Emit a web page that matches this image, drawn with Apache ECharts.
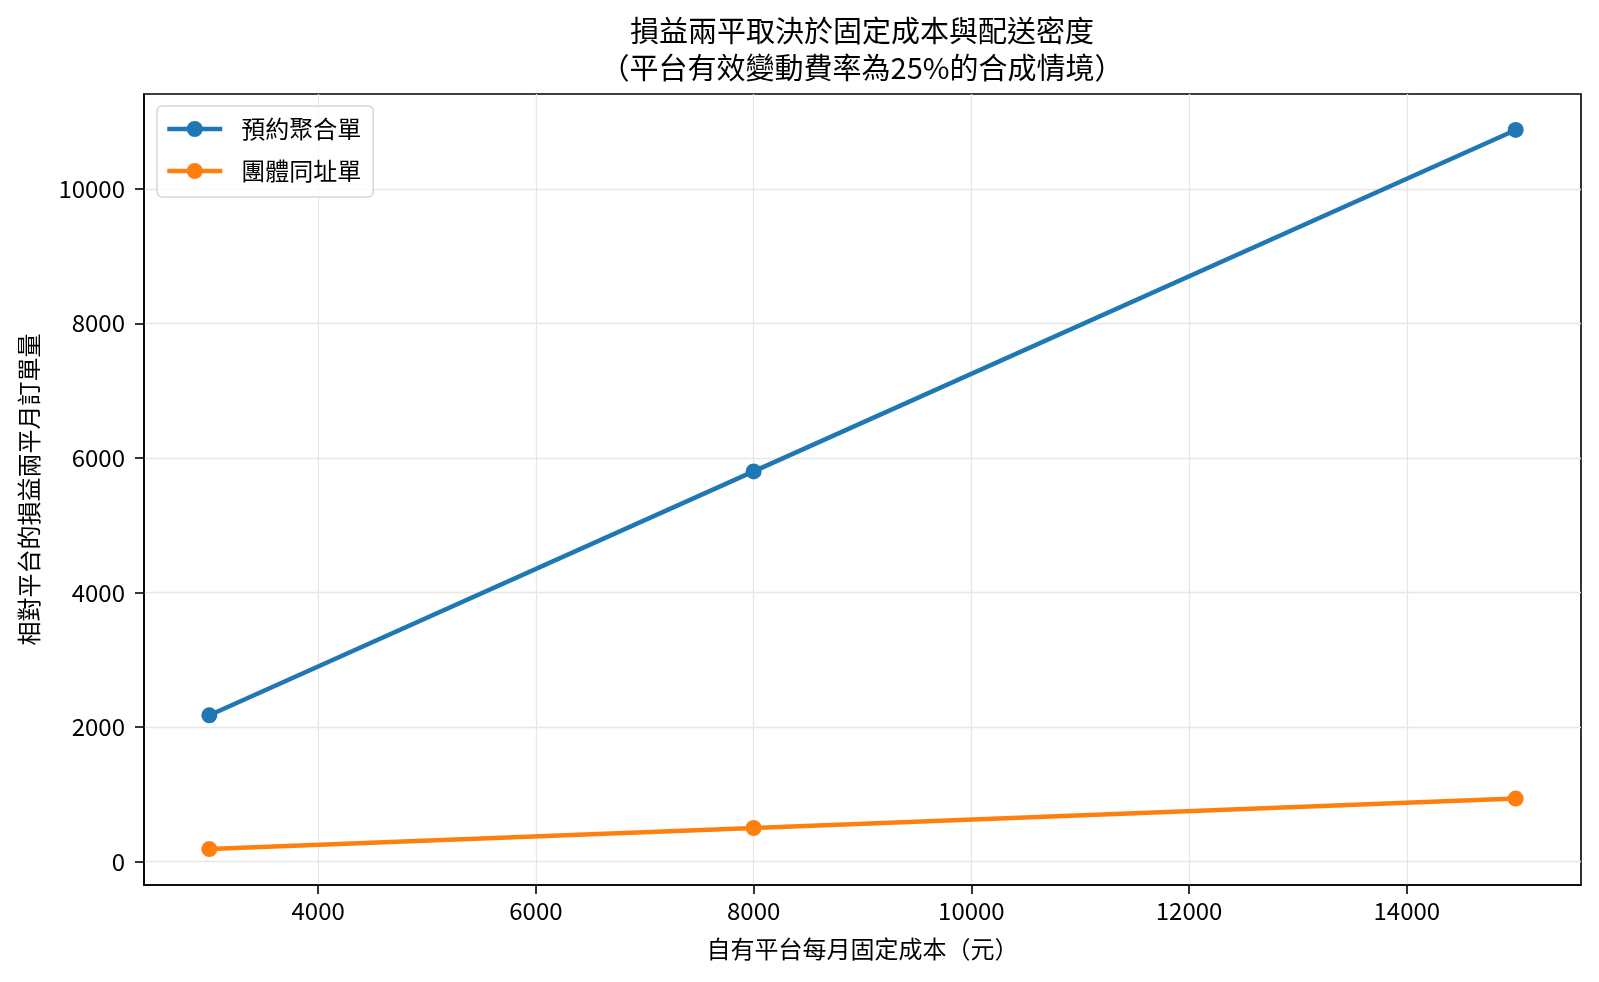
<!DOCTYPE html>
<html>
<head>
<meta charset="utf-8">
<script src="https://cdn.jsdelivr.net/npm/echarts@6/dist/echarts.min.js"></script>
<style>
  html, body { margin: 0; padding: 0; background: #fff; }
  #chart { width: 1599px; height: 982px; }
</style>
</head>
<body>
<div id="chart"></div>
<script>
// 每月固定成本（元）
const fixedCosts = [3000, 8000, 15000];
// 預約聚合單 / 團體同址單 的損益兩平月訂單量
const reservedOrders = [2175, 5800, 10875];
const groupOrders = [187.5, 500, 937.5];
const seriesNames = ['預約聚合單', '團體同址單'];
// 刻度
const xTicks = [4000, 6000, 8000, 10000, 12000, 14000];
const yTicks = [0, 2000, 4000, 6000, 8000, 10000];

const FONT = '"Noto Sans CJK TC", "Noto Sans", sans-serif';
const chart = echarts.init(document.getElementById('chart'), null, { renderer: 'canvas' });

function pairs(xs, ys) {
  return xs.map((x, i) => [x, ys[i]]);
}

// 不要千分位
const plainNumber = v => String(v);

const axisCommon = {
  type: 'value',
  axisLine: { show: true, onZero: false, lineStyle: { color: '#000', width: 1.6 } },
  axisTick: { show: true, inside: false, length: 9, lineStyle: { color: '#000', width: 1.6 } },
  splitLine: { show: true, lineStyle: { color: '#e6e6e6', width: 1.3 } },
  nameTextStyle: { fontFamily: FONT, fontSize: 24, color: '#000' },
};

const option = {
  animation: false,
  backgroundColor: '#fff',
  title: {
    text: '損益兩平取決於固定成本與配送密度\n（平台有效變動費率為25%的合成情境）',
    left: 862,
    top: 12,
    padding: 0,
    textAlign: 'center',
    textStyle: { fontFamily: FONT, fontSize: 29, fontWeight: 'normal', color: '#000', lineHeight: 37 },
  },
  grid: {
    left: 144, right: 18, top: 94, bottom: 97,
    show: true, borderColor: '#000', borderWidth: 1.6, backgroundColor: 'transparent',
  },
  legend: {
    left: 157, top: 106,
    orient: 'vertical',
    padding: [11, 12, 14, 8],
    itemWidth: 55, itemHeight: 20, itemGap: 18,
    backgroundColor: 'rgba(255,255,255,0.8)',
    borderColor: '#d6d6d6', borderWidth: 1.5, borderRadius: 5,
    lineStyle: { width: 4.5 },
    textStyle: { fontFamily: FONT, fontSize: 24, color: '#000', lineHeight: 20, padding: [0, 0, 0, 14] },
    data: seriesNames,
  },
  xAxis: Object.assign({}, axisCommon, {
    min: 2400, max: 15600,
    name: '自有平台每月固定成本（元）',
    nameLocation: 'middle', nameGap: 52,
    axisTick: Object.assign({}, axisCommon.axisTick, { customValues: xTicks }),
    axisLabel: { customValues: xTicks, formatter: plainNumber, margin: 14, fontFamily: FONT, fontSize: 24, color: '#000' },
  }),
  yAxis: Object.assign({}, axisCommon, {
    min: -347, max: 11409,
    name: '相對平台的損益兩平月訂單量',
    nameLocation: 'middle', nameGap: 103, nameRotate: 90,
    axisTick: Object.assign({}, axisCommon.axisTick, { customValues: yTicks }),
    axisLabel: { customValues: yTicks, formatter: plainNumber, margin: 19, fontFamily: FONT, fontSize: 24, color: '#000' },
  }),
  series: [
    {
      name: seriesNames[0], type: 'line',
      data: pairs(fixedCosts, reservedOrders),
      symbol: 'circle', symbolSize: 16,
      lineStyle: { color: '#1f77b4', width: 4.5 },
      itemStyle: { color: '#1f77b4' },
    },
    {
      name: seriesNames[1], type: 'line',
      data: pairs(fixedCosts, groupOrders),
      symbol: 'circle', symbolSize: 16,
      lineStyle: { color: '#ff7f0e', width: 4.5 },
      itemStyle: { color: '#ff7f0e' },
    },
  ],
};

chart.setOption(option);
</script>
</body>
</html>
